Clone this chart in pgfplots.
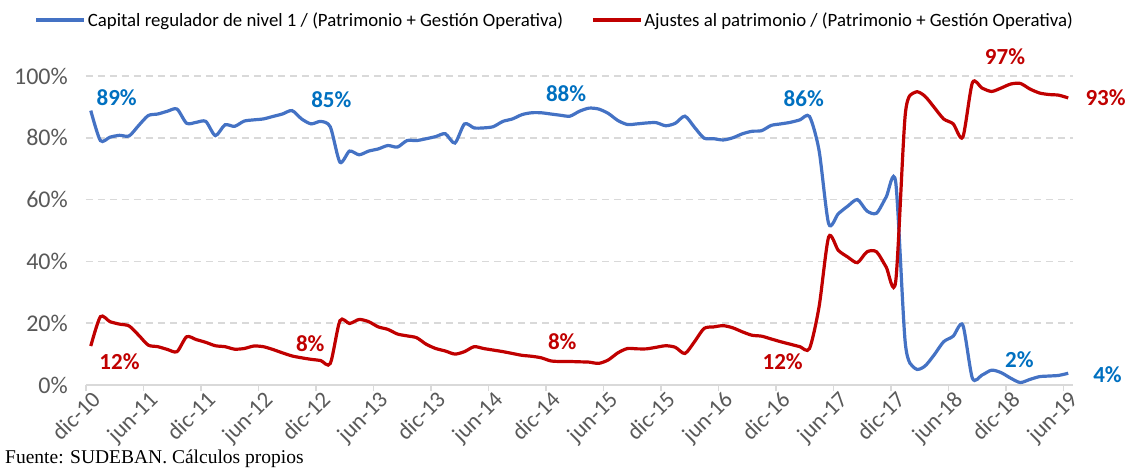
\documentclass[border=0pt]{standalone}
\usepackage{pgfplots}
\pgfplotsset{compat=1.18}
\usepackage{fontspec}
\setmainfont{Carlito}
\newfontfamily\serifsrc{Liberation Serif}
\definecolor{cblue}{HTML}{4472C4}
\definecolor{cred}{HTML}{C00000}
\definecolor{lblue}{HTML}{0070C0}
\definecolor{gridc}{HTML}{D9D9D9}
\definecolor{tickc}{HTML}{595959}
\begin{document}
\begin{tikzpicture}
\useasboundingbox (-86pt,-85pt) rectangle (1044pt,385pt);
\begin{axis}[
  at={(0pt,0pt)}, anchor=south west,
  scale only axis, width=987pt, height=309pt,
  xmin=0, xmax=103, ymin=0, ymax=100,
  clip=false,
  axis x line*=bottom, axis y line*=left,
  y axis line style={draw=none},
  x axis line style={draw=gridc, line width=1.5pt},
  xtick={0,6,...,102},
  xticklabels={dic-10,jun-11,dic-11,jun-12,dic-12,jun-13,dic-13,jun-14,dic-14,jun-15,dic-15,jun-16,dic-16,jun-17,dic-17,jun-18,dic-18,jun-19},
  x tick label style={rotate=45, anchor=north east, font=\fontsize{23}{25}\selectfont, text=tickc, inner sep=1pt, xshift=5pt, yshift=-1pt},
  xtick style={draw=gridc, line width=1.2pt},
  tick align=outside, major tick length=6pt,
  ytick={0,20,40,60,80,100},
  yticklabel={\pgfmathprintnumber{\tick}\%},
  y tick label style={font=\fontsize{24}{26}\selectfont, text=tickc, anchor=east, inner sep=0pt, xshift=-12pt},
  ytick style={draw=none},
  /pgf/number format/assume math mode=true,
  ymajorgrids,
  grid style={draw=gridc, line width=1.5pt, dash pattern=on 7pt off 5pt},
  legend columns=2,
  legend style={draw=none, fill=none, at={(0.475,1.181)}, anchor=center,
    font=\fontsize{18.8}{21}\selectfont, /tikz/every even column/.append style={column sep=26pt}},
  legend image code/.code={\draw[#1] (0pt,0pt) -- (48pt,0pt);},
]
\addplot[cblue, line width=3.2pt, smooth, tension=0.45] table[x expr=\thisrowno{0}+0.5, y index=1] {
0 88.8
1 79.1
2 80.2
3 80.8
4 80.6
5 84.0
6 87.2
7 87.7
8 88.6
9 89.3
10 84.7
11 85.0
12 85.3
13 80.7
14 84.2
15 83.7
16 85.4
17 85.8
18 86.1
19 86.9
20 87.7
21 88.8
22 86.1
23 84.5
24 85.3
25 83.5
26 72.1
27 75.7
28 74.5
29 75.7
30 76.4
31 77.5
32 77.0
33 79.1
34 79.1
35 79.7
36 80.4
37 81.3
38 78.3
39 84.5
40 83.2
41 83.2
42 83.6
43 85.3
44 86.1
45 87.5
46 88.1
47 88.1
48 87.7
49 87.3
50 87.0
51 88.6
52 89.6
53 89.3
54 87.9
55 85.6
56 84.3
57 84.5
58 84.8
59 84.9
60 83.9
61 84.7
62 87.0
63 83.4
64 79.9
65 79.7
66 79.3
67 80.0
68 81.3
69 82.1
70 82.3
71 84.0
72 84.5
73 85.0
74 85.8
75 86.9
76 75.9
77 52.2
78 55.4
79 57.9
80 60.0
81 56.3
82 55.6
83 60.8
84 65.6
85 13.5
86 5.4
87 6.0
88 9.7
89 14.0
90 15.8
91 19.4
92 2.2
93 3.2
94 4.8
95 4.0
96 2.2
97 0.8
98 1.8
99 2.7
100 2.9
101 3.1
102 3.8
};
\addlegendentry{Capital regulador de nivel 1 / (Patrimonio + Gestión Operativa)}
\addplot[cred, line width=3.2pt, smooth, tension=0.45] table[x expr=\thisrowno{0}+0.5, y index=1] {
0 12.6
1 22.1
2 20.5
3 19.7
4 19.1
5 16.1
6 12.9
7 12.4
8 11.5
9 10.8
10 15.6
11 14.7
12 13.8
13 12.7
14 12.4
15 11.6
16 11.8
17 12.6
18 12.4
19 11.5
20 10.4
21 9.4
22 8.8
23 8.3
24 7.9
25 7.0
26 20.8
27 19.9
28 21.2
29 20.5
30 18.8
31 18.0
32 16.5
33 15.9
34 15.3
35 13.2
36 11.8
37 11.0
38 10.0
39 10.8
40 12.4
41 11.8
42 11.3
43 10.8
44 10.2
45 9.6
46 9.3
47 8.8
48 7.8
49 7.6
50 7.6
51 7.5
52 7.4
53 7.0
54 8.1
55 10.4
56 11.8
57 11.7
58 11.7
59 12.2
60 12.7
61 12.2
62 10.2
63 14.0
64 18.3
65 18.8
66 19.2
67 18.5
68 17.2
69 16.1
70 15.8
71 14.9
72 14.0
73 13.2
74 12.4
75 11.8
76 25.3
77 47.9
78 43.6
79 41.4
80 39.6
81 43.1
82 43.1
83 38.2
84 33.6
85 87.7
86 94.7
87 93.6
88 89.9
89 86.1
90 84.5
91 80.2
92 97.8
93 96.1
94 95.0
95 96.1
96 97.4
97 97.6
98 95.8
99 94.5
100 94.0
101 93.8
102 92.9
};
\addlegendentry{Ajustes al patrimonio / (Patrimonio + Gestión Operativa)}
\begin{scope}[every node/.style={font=\bfseries\fontsize{23}{25}\selectfont}]
\node[text=lblue] at (axis cs:3.2,93.1) {89\%};
\node[text=lblue] at (axis cs:25.6,92.5) {85\%};
\node[text=lblue] at (axis cs:50.1,94.4) {88\%};
\node[text=lblue] at (axis cs:74.9,92.8) {86\%};
\node[text=lblue] at (axis cs:97.4,8.3) {2\%};
\node[text=lblue] at (axis cs:106.6,3.2) {4\%};
\node[text=cred] at (axis cs:95.9,106.1) {97\%};
\node[text=cred] at (axis cs:106.4,92.9) {93\%};
\node[text=cred] at (axis cs:3.5,7.5) {12\%};
\node[text=cred] at (axis cs:23.4,13.3) {8\%};
\node[text=cred] at (axis cs:49.7,14.0) {8\%};
\node[text=cred] at (axis cs:72.7,7.6) {12\%};
\end{scope}
\end{axis}
\node[anchor=south west, inner sep=0pt, font=\serifsrc\fontsize{19.5}{21}\selectfont] at (-81pt,-83pt) {Fuente: SUDEBAN. Cálculos propios};
\end{tikzpicture}
\end{document}
